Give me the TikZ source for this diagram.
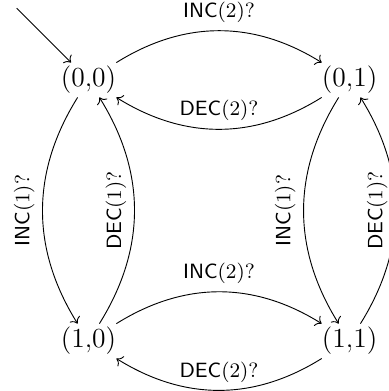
\documentclass[tikz,border=0pt]{standalone}
\usetikzlibrary{arrows.meta}
\begin{document}
\begin{tikzpicture}[
  statenode/.style={inner sep=1.4pt, font=\large},
  edgelbl/.style={font=\small},
  trans/.style={->},
  vlbl/.style={edgelbl, rotate=90, anchor=south, pos=0.5}
]
\useasboundingbox (-1.356,-4.765) rectangle (4.589,1.226);
\node[statenode] (s00) at (0,0) {$(0{,}0)$};
\node[statenode] (s01) at (4,0) {$(0{,}1)$};
\node[statenode] (s10) at (0,-4) {$(1{,}0)$};
\node[statenode] (s11) at (4,-4) {$(1{,}1)$};
\coordinate (init) at (-1.1,1.1);
\draw[trans] (init) -- (s00);
% horizontal
\draw[trans] (s00) to[bend left=32] node[edgelbl, above] {\textsf{INC}$(2)?$} (s01);
\draw[trans] (s01) to[bend left=32] node[edgelbl, above] {\textsf{DEC}$(2)?$} (s00);
\draw[trans] (s10) to[bend left=32] node[edgelbl, above] {\textsf{INC}$(2)?$} (s11);
\draw[trans] (s11) to[bend left=32] node[edgelbl, above] {\textsf{DEC}$(2)?$} (s10);
% vertical
\draw[trans] (s00) to[bend right=32] node[vlbl] {\textsf{INC}$(1)?$} (s10);
\draw[trans] (s10) to[bend right=32] node[vlbl] {\textsf{DEC}$(1)?$} (s00);
\draw[trans] (s01) to[bend right=32] node[vlbl] {\textsf{INC}$(1)?$} (s11);
\draw[trans] (s11) to[bend right=32] node[vlbl] {\textsf{DEC}$(1)?$} (s01);
\end{tikzpicture}
\end{document}
